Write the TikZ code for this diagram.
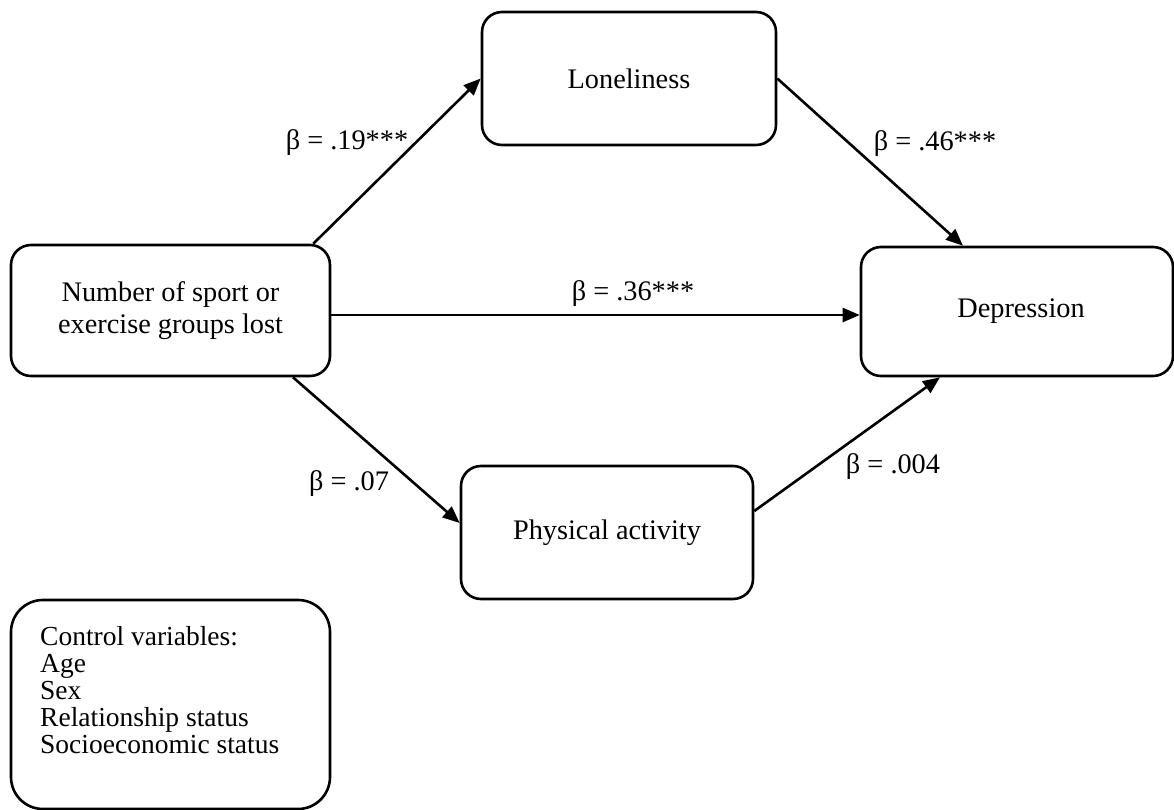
\documentclass[tikz,border=0pt]{standalone}
\usepackage{fontspec}
\setmainfont{Liberation Serif}
\usetikzlibrary{arrows.meta,calc}
\begin{document}
\begin{tikzpicture}[x=1pt,y=-1pt,
  txt/.style={font=\fontsize{28.3}{32}\selectfont},
  box/.style={draw, line width=2.6pt, rounded corners=20pt, inner sep=0pt, align=center, txt},
  arr/.style={line width=2.6pt, -{Triangle[length=17pt,width=14pt]}},
  lbl/.style={anchor=base, inner sep=0pt, txt}]
\useasboundingbox (0,0) rectangle (1174,810);
\node[box, minimum width=294pt, minimum height=133pt] (lon) at (629,78.5) {Loneliness};
\node[box, minimum width=319pt, minimum height=131pt] (num) at (170.5,310.5) {Number of sport or\\exercise groups lost};
\node[box, minimum width=312pt, minimum height=129pt] (dep) at (1017,311.5) {\hspace*{8pt}Depression};
\node[box, minimum width=292pt, minimum height=133pt] (phy) at (607,532.5) {Physical activity};
\node[box, rounded corners=32pt, minimum width=319pt, minimum height=209pt] (ctrl) at (170.5,704.5) {};
\node[anchor=north west, align=left, inner sep=0pt, font=\fontsize{27.5}{27}\selectfont] (ctrltxt) at (40,626) {Control variables:\\Age\\Sex\\Relationship status\\Socioeconomic status};
\draw[arr] ([xshift=-18pt]num.north east) -- (lon.west);
\draw[arr] (lon.east) -- ([xshift=-54pt]dep.north);
\draw[arr] ([yshift=-4.5pt]num.east) -- ([yshift=-4.5pt]num.east -| dep.west);
\draw[arr] ([xshift=122.5pt]num.south) -- ([yshift=9.5pt]phy.west);
\draw[arr] ([yshift=21.5pt]phy.east) -- ([xshift=-77pt]dep.south);
\node[lbl] (l1) at (347,150) {β = .19***};
\node[lbl] (l2) at (935,151) {β = .46***};
\node[lbl] (l3) at (633,300) {β = .36***};
\node[lbl] (l4) at (349,490) {β = .07};
\node[lbl] (l5) at (893,473) {β = .004};
\end{tikzpicture}
\end{document}
